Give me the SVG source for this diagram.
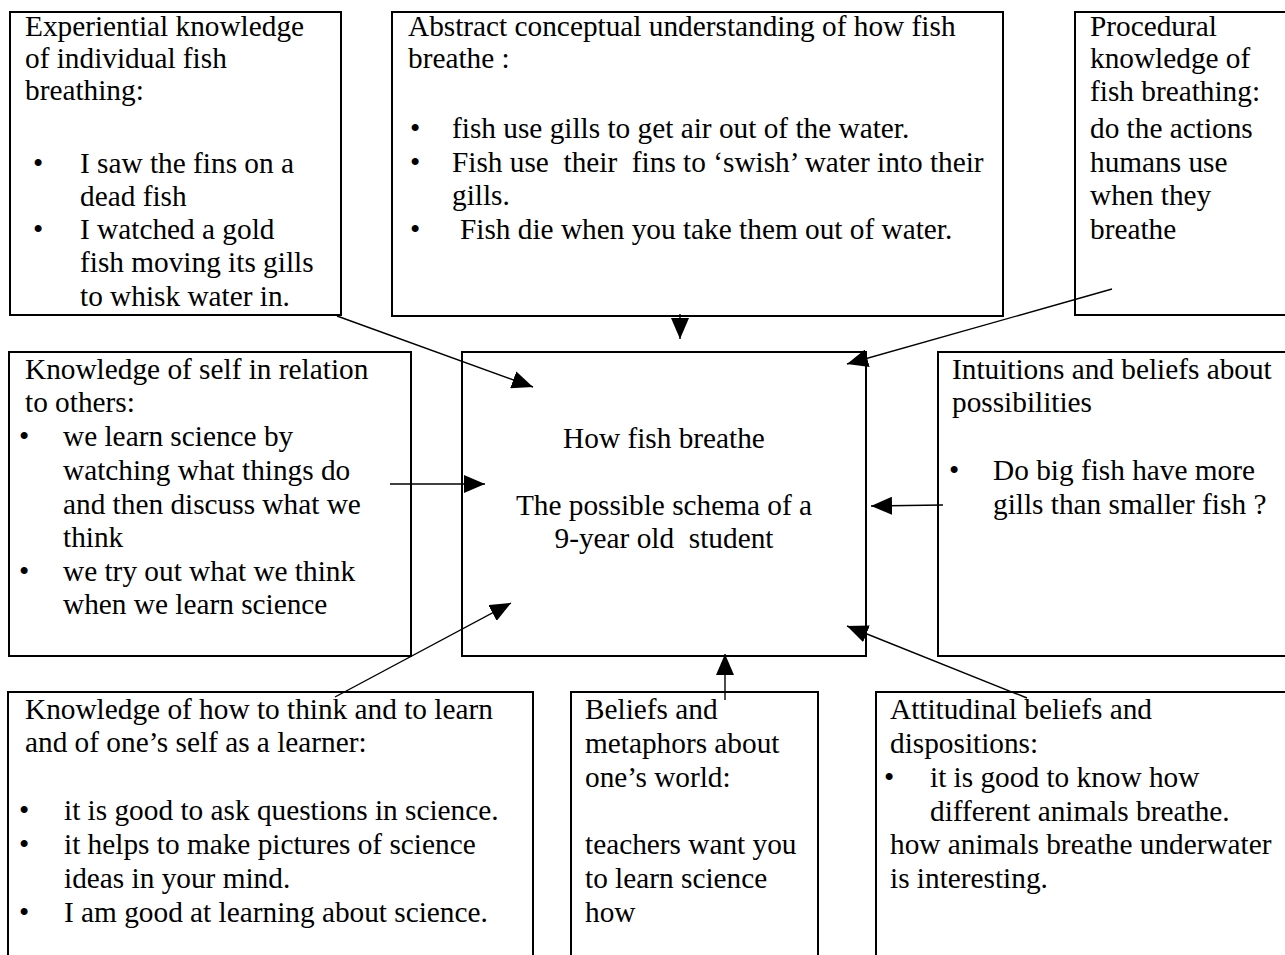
<svg xmlns="http://www.w3.org/2000/svg" width="1285" height="955" viewBox="0 0 1285 955">
<defs>
<style>
.box{fill:#fff;stroke:#000;stroke-width:2}
.t{font-family:"Liberation Serif","Times New Roman",serif;font-size:29.3px;fill:#000}
.c{text-anchor:middle}
.con line{stroke:#000;stroke-width:1.4;marker-end:url(#ah)}
</style>
<marker id="ah" markerUnits="userSpaceOnUse" markerWidth="22" markerHeight="18" refX="21" refY="9" orient="auto">
<path d="M0,0 L21,9 L0,18 z" fill="#000"/>
</marker>
</defs>
<rect width="1285" height="955" fill="#fff"/>

<g id="experiential">
<rect class="box" x="10" y="12" width="331" height="303"/>
<text class="t" x="25" y="36">Experiential knowledge</text>
<text class="t" x="25" y="68">of individual fish</text>
<text class="t" x="25" y="100">breathing:</text>
<text class="t" x="33" y="173">•</text><text class="t" x="80" y="173">I saw the fins on a</text>
<text class="t" x="80" y="206">dead fish</text>
<text class="t" x="33" y="239">•</text><text class="t" x="80" y="239">I watched a gold</text>
<text class="t" x="80" y="272">fish moving its gills</text>
<text class="t" x="80" y="306">to whisk water in.</text>
</g>

<g id="abstract">
<rect class="box" x="392" y="12" width="611" height="304"/>
<text class="t" x="408" y="36">Abstract conceptual understanding of how fish</text>
<text class="t" x="408" y="68">breathe :</text>
<text class="t" x="410" y="138">•</text><text class="t" x="452" y="138">fish use gills to get air out of the water.</text>
<text class="t" x="410" y="172">•</text><text class="t" x="452" y="172" xml:space="preserve">Fish use  their  fins to ‘swish’ water into their</text>
<text class="t" x="452" y="205">gills.</text>
<text class="t" x="410" y="239">•</text><text class="t" x="460" y="239">Fish die when you take them out of water.</text>
</g>

<g id="procedural">
<rect class="box" x="1075" y="12" width="230" height="303"/>
<text class="t" x="1090" y="36">Procedural</text>
<text class="t" x="1090" y="68">knowledge of</text>
<text class="t" x="1090" y="101">fish breathing:</text>
<text class="t" x="1090" y="138">do the actions</text>
<text class="t" x="1090" y="172">humans use</text>
<text class="t" x="1090" y="205">when they</text>
<text class="t" x="1090" y="239">breathe</text>
</g>

<g id="self-others">
<rect class="box" x="9" y="352" width="402" height="304"/>
<text class="t" x="25" y="379">Knowledge of self in relation</text>
<text class="t" x="25" y="412">to others:</text>
<text class="t" x="19" y="446">•</text><text class="t" x="63" y="446">we learn science by</text>
<text class="t" x="63" y="480">watching what things do</text>
<text class="t" x="63" y="514">and then discuss what we</text>
<text class="t" x="63" y="547">think</text>
<text class="t" x="19" y="581">•</text><text class="t" x="63" y="581">we try out what we think</text>
<text class="t" x="63" y="614">when we learn science</text>
</g>

<g id="center">
<rect class="box" x="462" y="352" width="404" height="304"/>
<text class="t c" x="664" y="448">How fish breathe</text>
<text class="t c" x="664" y="515">The possible schema of a</text>
<text class="t c" x="664" y="548" xml:space="preserve">9-year old  student</text>
</g>

<g id="intuitions">
<rect class="box" x="938" y="352" width="360" height="304"/>
<text class="t" x="952" y="379">Intuitions and beliefs about</text>
<text class="t" x="952" y="412">possibilities</text>
<text class="t" x="949" y="480">•</text><text class="t" x="993" y="480">Do big fish have more</text>
<text class="t" x="993" y="514">gills than smaller fish ?</text>
</g>

<g id="how-to-think">
<rect class="box" x="8" y="692" width="525" height="300"/>
<text class="t" x="25" y="719">Knowledge of how to think and to learn</text>
<text class="t" x="25" y="752">and of one’s self as a learner:</text>
<text class="t" x="19" y="820">•</text><text class="t" x="64" y="820">it is good to ask questions in science.</text>
<text class="t" x="19" y="854">•</text><text class="t" x="64" y="854">it helps to make pictures of science</text>
<text class="t" x="64" y="888">ideas in your mind.</text>
<text class="t" x="19" y="922">•</text><text class="t" x="64" y="922">I am good at learning about science.</text>
</g>

<g id="beliefs-metaphors">
<rect class="box" x="571" y="692" width="247" height="300"/>
<text class="t" x="585" y="719">Beliefs and</text>
<text class="t" x="585" y="753">metaphors about</text>
<text class="t" x="585" y="787">one’s world:</text>
<text class="t" x="585" y="854">teachers want you</text>
<text class="t" x="585" y="888">to learn science</text>
<text class="t" x="585" y="922">how</text>
</g>

<g id="attitudinal">
<rect class="box" x="876" y="692" width="420" height="300"/>
<text class="t" x="890" y="719">Attitudinal beliefs and</text>
<text class="t" x="890" y="753">dispositions:</text>
<text class="t" x="884" y="787">•</text><text class="t" x="930" y="787">it is good to know how</text>
<text class="t" x="930" y="821">different animals breathe.</text>
<text class="t" x="890" y="854">how animals breathe underwater</text>
<text class="t" x="890" y="888">is interesting.</text>
</g>

<g id="connectors" class="con">
<line x1="337" y1="316" x2="533" y2="387"/>
<line x1="680" y1="314" x2="680" y2="339"/>
<line x1="1112" y1="289" x2="847" y2="364"/>
<line x1="390" y1="484" x2="485" y2="484"/>
<line x1="943" y1="505" x2="871" y2="506"/>
<line x1="335" y1="697" x2="511" y2="603"/>
<line x1="725" y1="700" x2="725" y2="654"/>
<line x1="1027" y1="698" x2="847" y2="626"/>
</g>
</svg>
